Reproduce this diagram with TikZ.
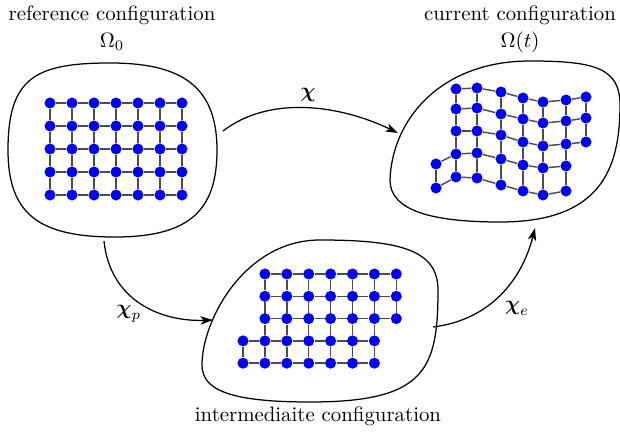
\documentclass[tikz,border=0pt]{standalone}
\usepackage{amsmath,amssymb}
\usetikzlibrary{arrows.meta}
\tikzset{
  dot/.style={circle, fill=blue, inner sep=0pt, minimum size=5.3pt},
  link/.style={draw=black!70, line width=0.7pt},
  blob/.style={draw=black, line width=0.6pt},
  mapping/.style={draw=black, line width=0.6pt, -{Stealth[length=6pt,width=4pt,inset=1.6pt]}},
  lbl/.style={inner sep=0pt, anchor=base}
}
\begin{document}
\begin{tikzpicture}[x=0.48pt,y=-0.48pt]
\useasboundingbox (0,0) rectangle (620,434);

% ---------- blobs ----------
\draw[blob] (8,150) .. controls (8,78) and (35,63) .. (110,63)
  .. controls (180,63) and (217,85) .. (217,150)
  .. controls (217,210) and (190,237) .. (115,237)
  .. controls (40,237) and (8,215) .. (8,150) -- cycle;
\draw[blob] (390,180) .. controls (392,120) and (440,61) .. (530,61)
  .. controls (595,61) and (620,68) .. (620,105)
  .. controls (620,170) and (600,222) .. (500,222)
  .. controls (430,222) and (390,210) .. (390,180) -- cycle;
\draw[blob] (202,365) .. controls (202,320) and (245,240) .. (320,240)
  .. controls (400,240) and (438,250) .. (438,290)
  .. controls (438,370) and (425,402) .. (310,402)
  .. controls (230,402) and (202,390) .. (202,365) -- cycle;

% ---------- reference grid ----------
\foreach \r in {1,...,5}{
  \foreach \c in {1,...,7}{
    \node[dot] (a-\r-\c) at ({50+22*(\c-1)},{103+23*(\r-1)}) {};
  }
}
\foreach \r in {1,...,5}{
  \foreach \c [evaluate=\c as \n using int(\c+1)] in {1,...,6}{
    \draw[link] (a-\r-\c) -- (a-\r-\n);
  }
}
\foreach \r [evaluate=\r as \m using int(\r+1)] in {1,...,4}{
  \foreach \c in {1,...,7}{
    \draw[link] (a-\r-\c) -- (a-\m-\c);
  }
}

% ---------- intermediate grid ----------
\foreach \r in {1,2,3}{
  \foreach \c in {1,...,7}{
    \node[dot] (b-\r-\c) at ({243+21.9*\c},{274+22.3*(\r-1)}) {};
  }
}
\foreach \r in {4,5}{
  \foreach \c in {0,...,6}{
    \node[dot] (b-\r-\c) at ({243+21.9*\c},{274+22.3*(\r-1)}) {};
  }
}
\foreach \r in {1,2,3}{
  \foreach \c [evaluate=\c as \n using int(\c+1)] in {1,...,6}{
    \draw[link] (b-\r-\c) -- (b-\r-\n);
  }
}
\foreach \r in {4,5}{
  \foreach \c [evaluate=\c as \n using int(\c+1)] in {0,...,5}{
    \draw[link] (b-\r-\c) -- (b-\r-\n);
  }
}
\foreach \r [evaluate=\r as \m using int(\r+1)] in {1,2}{
  \foreach \c in {1,...,7}{
    \draw[link] (b-\r-\c) -- (b-\m-\c);
  }
}
\foreach \c in {1,...,6}{ \draw[link] (b-3-\c) -- (b-4-\c); }
\foreach \c in {0,...,6}{ \draw[link] (b-4-\c) -- (b-5-\c); }

% ---------- current grid ----------
\foreach \c/\x/\y in {1/456/89,2/477/88,3/501/92,4/523/98,5/543/102,6/566/100,7/586/97}
  \node[dot] (d-1-\c) at (\x,\y) {};
\foreach \c/\x/\y in {1/456/109,2/477/108,3/501/114,4/523/119,5/543/123,6/566/121,7/586/118}
  \node[dot] (d-2-\c) at (\x,\y) {};
\foreach \c/\x/\y in {1/456/131,2/477/131,3/501/135,4/523/142,5/543/146,6/566/144,7/586/142}
  \node[dot] (d-3-\c) at (\x,\y) {};
\foreach \c/\x/\y in {0/436/164,1/456/154,2/477/153,3/501/159,4/523/165,5/543/168,6/566/166}
  \node[dot] (d-4-\c) at (\x,\y) {};
\foreach \c/\x/\y in {0/436/188,1/456/177,2/477/178,3/501/185,4/523/191,5/543/195,6/566/191}
  \node[dot] (d-5-\c) at (\x,\y) {};
\foreach \r in {1,2,3}{
  \foreach \c [evaluate=\c as \n using int(\c+1)] in {1,...,6}{
    \draw[link] (d-\r-\c) -- (d-\r-\n);
  }
}
\foreach \r in {4,5}{
  \foreach \c [evaluate=\c as \n using int(\c+1)] in {0,...,5}{
    \draw[link] (d-\r-\c) -- (d-\r-\n);
  }
}
\foreach \r [evaluate=\r as \m using int(\r+1)] in {1,2}{
  \foreach \c in {1,...,7}{
    \draw[link] (d-\r-\c) -- (d-\m-\c);
  }
}
\foreach \c in {1,...,6}{ \draw[link] (d-3-\c) -- (d-4-\c); }
\foreach \c in {0,...,6}{ \draw[link] (d-4-\c) -- (d-5-\c); }

% ---------- mappings ----------
\coordinate (chiS) at (223,131);
\coordinate (chiE) at (398,133);
\coordinate (chipS) at (104,241);
\coordinate (chipE) at (213,320);
\coordinate (chieS) at (433,327);
\coordinate (chieE) at (535,228);
\draw[mapping] (chiS) .. controls (270,95) and (340,105) .. (chiE);
\draw[mapping] (chipS) .. controls (110,300) and (160,322) .. (chipE);
\draw[mapping] (chieS) .. controls (490,320) and (522,280) .. (chieE);

\node (lchi) at (308,95) {$\boldsymbol{\chi}$};
\node (lchip) at (129,314) {$\boldsymbol{\chi}_p$};
\node (lchie) at (517,308) {$\boldsymbol{\chi}_e$};

% ---------- titles ----------
\node[lbl] (t1) at (112,21) {reference configuration};
\node[lbl] (t1b) at (112,47) {$\Omega_0$};
\node[lbl] (t2) at (520,21) {current configuration};
\node[lbl] (t2b) at (520,47) {$\Omega(t)$};
\node[lbl] (t3) at (318,422) {intermediaite configuration};
\end{tikzpicture}
\end{document}
